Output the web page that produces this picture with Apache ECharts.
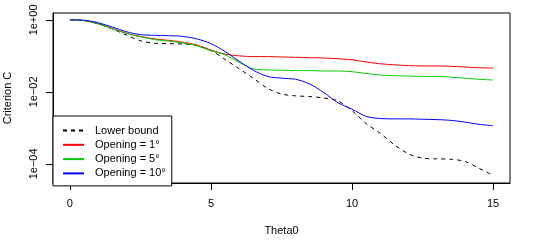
<!DOCTYPE html>
<html><head><meta charset="utf-8">
<script src="https://cdn.jsdelivr.net/npm/echarts@6/dist/echarts.min.js"></script>
<style>html,body{margin:0;padding:0;background:#fff}#c{width:550px;height:250px}</style>
</head><body><div id="c"></div>
<script>
// Theta0 grid
var theta = [0,0.5,1,1.5,2,2.5,3,3.5,4,4.5,5,5.5,6,6.5,7,7.5,8,8.5,9,9.5,10,10.5,11,11.5,12,12.5,13,13.5,14,14.5,15];
// log10 of Criterion C
var lowerBound = [0,-0.02,-0.11,-0.25,-0.42,-0.58,-0.65,-0.66,-0.67,-0.71,-0.85,-1.10,-1.36,-1.62,-1.90,-2.06,-2.11,-2.13,-2.17,-2.25,-2.52,-2.88,-3.15,-3.47,-3.72,-3.84,-3.86,-3.87,-3.93,-4.12,-4.32];
var opening1 = [0,-0.02,-0.11,-0.24,-0.37,-0.46,-0.53,-0.57,-0.62,-0.70,-0.84,-0.95,-1.00,-1.02,-1.02,-1.03,-1.04,-1.05,-1.06,-1.08,-1.11,-1.17,-1.22,-1.25,-1.27,-1.28,-1.28,-1.29,-1.31,-1.33,-1.34];
var opening5 = [0,-0.02,-0.11,-0.25,-0.38,-0.47,-0.55,-0.59,-0.64,-0.72,-0.86,-0.97,-1.18,-1.36,-1.39,-1.40,-1.41,-1.41,-1.42,-1.42,-1.44,-1.49,-1.53,-1.55,-1.56,-1.57,-1.57,-1.59,-1.62,-1.65,-1.67];
var opening10 = [0,-0.01,-0.08,-0.20,-0.33,-0.41,-0.43,-0.44,-0.46,-0.53,-0.66,-0.88,-1.15,-1.40,-1.57,-1.62,-1.65,-1.78,-2.02,-2.30,-2.48,-2.68,-2.74,-2.75,-2.75,-2.76,-2.77,-2.79,-2.84,-2.90,-2.94];
var seriesNames = ['Lower bound','Opening = 1°','Opening = 5°','Opening = 10°'];
var xTicks = [0,5,10,15];
var yTicks = [-4,-2,0];
var yTickLabels = ['1e\u221204','1e\u221202','1e+00'];
var xMin = -0.6, xMax = 15.6, yMin = -4.53, yMax = 0.19;

function pairs(ys){ return theta.map(function(t,i){ return [t, ys[i]]; }); }
var font = 'Liberation Sans, Arial, Helvetica, sans-serif';
var chart = echarts.init(document.getElementById('c'), null, {renderer:'canvas'});
function mk(name, ys, color, dashed){
  return {name:name, type:'line', xAxisIndex:0, yAxisIndex:0, data:pairs(ys), smooth:0.3, showSymbol:false,
    lineStyle:{color:color, width:1, type: dashed ? [4,4] : 'solid'}, itemStyle:{color:color},
    emphasis:{disabled:true}, z:3};
}
var hiddenAxis = {type:'value', min:1, max:2, show:false, gridIndex:0};
chart.setOption({
  animation:false,
  textStyle:{fontFamily:font},
  grid:{left:53, top:13, right:40, bottom:67, show:true, borderColor:'#000', borderWidth:1,
    backgroundColor:'transparent', outerBoundsMode:'none'},
  xAxis:[{type:'value', gridIndex:0, min:xMin, max:xMax, name:'Theta0', nameLocation:'middle', nameGap:42,
    nameTextStyle:{fontSize:11, color:'#000', fontFamily:font},
    axisLine:{show:true, onZero:true, onZeroAxisIndex:1, lineStyle:{color:'#000', width:1}}, splitLine:{show:false},
    axisTick:{show:true, length:7, customValues:xTicks, lineStyle:{color:'#000', width:1}},
    axisLabel:{customValues:xTicks, fontSize:11, color:'#000', margin:15, fontFamily:font}},
    hiddenAxis],
  yAxis:[{type:'value', gridIndex:0, min:yMin, max:yMax, name:'Criterion C', nameLocation:'middle', nameGap:40,
    nameTextStyle:{fontSize:11, color:'#000', fontFamily:font},
    axisLine:{show:true, onZero:true, onZeroAxisIndex:1, lineStyle:{color:'#000', width:1}}, splitLine:{show:false},
    axisTick:{show:true, length:7, customValues:yTicks, lineStyle:{color:'#000', width:1}},
    axisLabel:{customValues:yTicks, rotate:90, fontSize:11, color:'#000', margin:14, fontFamily:font,
      formatter:function(v){ var i = yTicks.indexOf(v); return i>=0 ? yTickLabels[i] : ''; }}},
    hiddenAxis],
  legend:{orient:'vertical', left:53, top:116, data:seriesNames, backgroundColor:'#fff',
    borderColor:'#000', borderWidth:1, borderRadius:0, padding:[9,6,7,9], itemWidth:21, itemHeight:10, itemGap:3.3,
    itemStyle:{opacity:0},
    textStyle:{fontSize:11, color:'#000', fontFamily:font, padding:[0,0,0,6]}, selectedMode:false},
  series:[
    mk(seriesNames[0], lowerBound, '#000000', true),
    mk(seriesNames[1], opening1, '#ff0000', false),
    mk(seriesNames[2], opening5, '#00cd00', false),
    mk(seriesNames[3], opening10, '#0000ff', false)
  ]
});
</script></body></html>
